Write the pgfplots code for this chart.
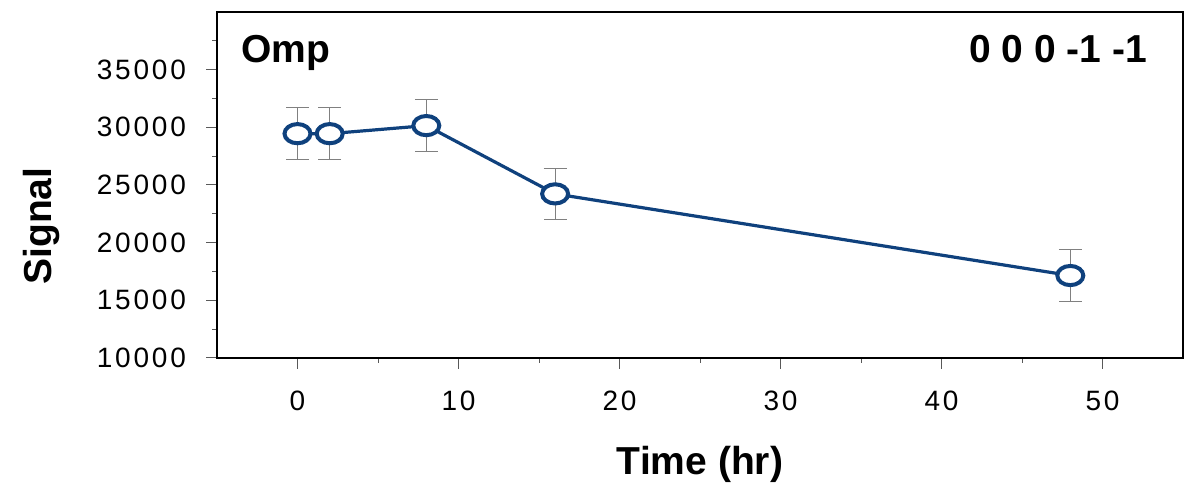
\documentclass[border=0pt]{standalone}
\usepackage{fontspec}
\setmainfont{Liberation Sans}
\usepackage{pgfplots}
\pgfplotsset{compat=1.18}
\usetikzlibrary{calc}
\definecolor{lineblue}{RGB}{15,65,125}
\pgfdeclareplotmark{ell}{\pgfpathellipse{\pgfpointorigin}{\pgfqpoint{6.5pt}{0pt}}{\pgfqpoint{0pt}{4.8pt}}\pgfusepathqfillstroke}
\pgfplotstableread{
x y err
0 29450 2230
2 29450 2230
8 30150 2230
16 24230 2240
48 17150 2230
}\datatable
\begin{document}
\begin{tikzpicture}
\begin{axis}[
 scale only axis, width=483pt, height=173pt,
 xmin=-5, xmax=55, ymin=10000, ymax=40000,
 xtick={0,10,...,50}, minor xtick={5,15,...,45},
 ytick={10000,15000,...,35000}, minor ytick={12500,17500,...,37500},
 xtick pos=bottom, ytick pos=left, tick align=outside,
 major tick length=5.5pt, minor tick length=2.5pt,
 tick style={gray!70!black, line width=0.5pt},
 axis line style={black, line width=1pt},
 scaled y ticks=false,
 /pgf/number format/set thousands separator={},
 /pgf/number format/assume math mode=true,
 ticklabel style={font=\fontsize{14}{14}\selectfont\addfontfeature{LetterSpace=10}},
 yticklabel style={xshift=-6.5pt},
 xticklabel style={yshift=-7.5pt},
 clip=false,
]
\addplot[color=lineblue, line width=1.6pt, mark=ell,
  mark options={fill=white, line width=2pt, solid},
  error bars/.cd, y dir=both, y explicit,
  error bar style={gray, line width=0.5pt},
  error mark options={gray, line width=0.5pt, mark size=5.75pt, rotate=90}]
  table[x=x, y=y, y error=err] {\datatable};
\coordinate (bl) at (rel axis cs:0,0);
\coordinate (tr) at (rel axis cs:1,1);
\node[anchor=base west, inner sep=0pt, font=\fontsize{19.5}{19.5}\selectfont\bfseries] at (axis description cs:0.025,0.853) {Omp};
\node[anchor=base east, inner sep=0pt, font=\fontsize{19.5}{19.5}\selectfont\bfseries] at (axis description cs:0.963,0.853) {0 0 0 -1 -1};
\node[anchor=base, inner sep=0pt, font=\fontsize{19.5}{19.5}\selectfont\bfseries] at (axis description cs:0.5,-0.338) {Time (hr)};
\node[anchor=center, rotate=90, inner sep=0pt, font=\fontsize{19.5}{19.5}\selectfont\bfseries] at (axis description cs:-0.182,0.381) {Signal};
\end{axis}
\pgfresetboundingbox
\path[use as bounding box] ($(bl)+(-108.5pt,-66pt)$) rectangle ($(tr)+(8.5pt,6pt)$);
\end{tikzpicture}
\end{document}
